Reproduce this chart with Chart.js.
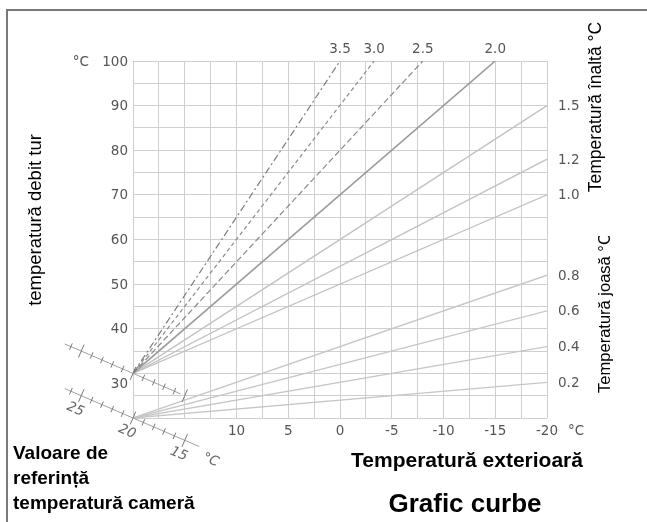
<!DOCTYPE html>
<html>
<head>
<meta charset="utf-8">
<script src="https://cdn.jsdelivr.net/npm/chart.js@4"></script>
<style>
  html, body { margin: 0; padding: 0; background: #fff; }
  canvas { display: block; }
</style>
</head>
<body>
<canvas id="c" width="647" height="522"></canvas>
<script>
// Outdoor temperature (x) and flow temperature (y) tick labels
const outdoorTicks = [10, 5, 0, -5, -10, -15, -20];
const flowTicks = [100, 90, 80, 70, 60, 50, 40, 30];

// Heating curves: name, flow temperature at +20 °C outdoor, end point
const curveNames  = ['3.5', '3.0', '2.5', '2.0', '1.5', '1.2', '1.0', '0.8', '0.6', '0.4', '0.2'];
const curveStartY = [30, 30, 30, 30, 30, 30, 30, 20, 20, 20, 20];
const curveEndX   = [0, -3.3, -8, -15, -20, -20, -20, -20, -20, -20, -20];
const curveEndY   = [100, 100, 100, 100, 90, 78, 70, 52, 44, 36, 28];

// Room set-point scales (°C)
const roomScaleTicks  = [26, 25, 24, 23, 22, 21, 20, 19, 18, 17, 16, 15];
const roomScaleLabels = [25, 20, 15];
const roomScaleOffsets = [10, 0];   // flow offset of upper / lower scale

const NUM = '"DejaVu Sans", sans-serif';
const TXT = '"Liberation Sans", Arial, sans-serif';

const curveStyles = [
  { color: '#7a7a7a', width: 1.2, dash: [7, 3, 2, 3] },
  { color: '#8a8a8a', width: 1.2, dash: [4, 3] },
  { color: '#8a8a8a', width: 1.2, dash: [6, 3] },
  { color: '#9a9a9a', width: 1.6, dash: [] },
  { color: '#c2c2c2', width: 1.3, dash: [] },
  { color: '#c2c2c2', width: 1.3, dash: [] },
  { color: '#c2c2c2', width: 1.3, dash: [] },
  { color: '#c6c6c6', width: 1.3, dash: [] },
  { color: '#c6c6c6', width: 1.3, dash: [] },
  { color: '#c6c6c6', width: 1.3, dash: [] },
  { color: '#c6c6c6', width: 1.3, dash: [] }
];

const datasets = curveNames.map((name, i) => ({
  label: name,
  data: [{ x: 20, y: curveStartY[i] }, { x: curveEndX[i], y: curveEndY[i] }],
  showLine: true,
  borderColor: curveStyles[i].color,
  borderWidth: curveStyles[i].width,
  borderDash: curveStyles[i].dash,
  pointRadius: 0,
  fill: false
}));

const decorations = {
  id: 'decorations',
  afterDraw(chart) {
    const ctx = chart.ctx;
    const xs = chart.scales.x, ys = chart.scales.y;
    const area = chart.chartArea;
    ctx.save();

    // outer frame
    ctx.strokeStyle = '#7a7a7a';
    ctx.lineWidth = 2;
    ctx.beginPath();
    ctx.moveTo(7, 530);
    ctx.lineTo(7, 10);
    ctx.lineTo(660, 10);
    ctx.stroke();

    // flow temperature labels
    ctx.fillStyle = '#555';
    ctx.font = '13.5px ' + NUM;
    ctx.textAlign = 'right';
    ctx.textBaseline = 'middle';
    flowTicks.forEach(v => ctx.fillText(String(v), area.left - 5, ys.getPixelForValue(v) + (v === 30 ? 11 : 1)));
    ctx.fillText('°C', area.left - 44, ys.getPixelForValue(100) + 1);

    // outdoor temperature labels
    ctx.textAlign = 'center';
    outdoorTicks.forEach(v => ctx.fillText(String(v), xs.getPixelForValue(v), area.bottom + 13));
    ctx.fillText('°C', area.right + 29, area.bottom + 13);

    // curve names
    curveNames.forEach((name, i) => {
      if (curveEndY[i] >= 100) {
        ctx.textAlign = 'center';
        ctx.fillText(name, xs.getPixelForValue(curveEndX[i]), area.top - 12);
      } else {
        ctx.textAlign = 'left';
        ctx.fillText(name, area.right + 11, ys.getPixelForValue(curveEndY[i]) + 1);
      }
    });

    // room set-point scales
    roomScaleOffsets.forEach((off, k) => {
      const P = t => ({ x: xs.getPixelForValue(t), y: ys.getPixelForValue(t + off) });
      const a = P(26.6), b = P(k === 0 ? 15.4 : 13.6);
      const len = Math.hypot(b.x - a.x, b.y - a.y);
      const u = { x: (b.x - a.x) / len, y: (b.y - a.y) / len };
      const n = { x: -u.y, y: u.x };
      ctx.strokeStyle = '#a0a0a0';
      ctx.lineWidth = 1;
      ctx.beginPath();
      ctx.moveTo(a.x, a.y);
      ctx.lineTo(b.x, b.y);
      ctx.stroke();
      ctx.strokeStyle = '#777';
      roomScaleTicks.forEach(t => {
        const p = P(t);
        const h = roomScaleLabels.includes(t) ? 7 : 3.5;
        ctx.beginPath();
        ctx.moveTo(p.x - n.x * h, p.y - n.y * h);
        ctx.lineTo(p.x + n.x * h, p.y + n.y * h);
        ctx.stroke();
      });
      if (k === 1) {
        const ang = Math.atan2(u.y, u.x);
        ctx.fillStyle = '#666';
        ctx.font = 'italic 13.5px ' + NUM;
        ctx.textAlign = 'center';
        ctx.textBaseline = 'middle';
        const put = (txt, t, d) => {
          const p = P(t);
          ctx.save();
          ctx.translate(p.x + n.x * d, p.y + n.y * d);
          ctx.rotate(ang);
          ctx.fillText(txt, 0, 0);
          ctx.restore();
        };
        roomScaleLabels.forEach(t => put(String(t), t, 15));
        put('°C', 12.2, 8);
      }
    });

    // axis titles
    ctx.fillStyle = '#000';
    ctx.textAlign = 'center';
    ctx.textBaseline = 'middle';
    const vtext = (txt, x, y) => {
      ctx.save();
      ctx.translate(x, y);
      ctx.rotate(-Math.PI / 2);
      ctx.fillText(txt, 0, 0);
      ctx.restore();
    };
    ctx.font = '18.5px ' + TXT;
    vtext('temperatură debit tur', 36, 220);
    ctx.font = '17.5px ' + TXT;
    vtext('Temperatură înaltă °C', 596, 107);
    ctx.save();
    ctx.beginPath();
    ctx.rect(560, 236, 87, 200);
    ctx.clip();
    ctx.font = '16.5px ' + TXT;
    vtext('Temperatură joasă °C', 605, 313);
    ctx.restore();

    ctx.font = 'bold 19px ' + TXT;
    ctx.textAlign = 'left';
    ctx.textBaseline = 'alphabetic';
    ctx.fillText('Valoare de', 13, 459);
    ctx.fillText('referință', 13, 484);
    ctx.fillText('temperatură cameră', 13, 509);

    ctx.textAlign = 'center';
    ctx.font = 'bold 21px ' + TXT;
    ctx.fillText('Temperatură exterioară', 467, 467);
    ctx.font = 'bold 26px ' + TXT;
    ctx.fillText('Grafic curbe', 465, 512);

    ctx.restore();
  }
};

new Chart(document.getElementById('c'), {
  type: 'scatter',
  data: { datasets },
  options: {
    responsive: false,
    animation: false,
    layout: { padding: { left: 133, right: 100, top: 61, bottom: 104 } },
    plugins: { legend: { display: false }, tooltip: { enabled: false } },
    scales: {
      x: {
        type: 'linear', min: -20, max: 20, reverse: true,
        ticks: { display: false, stepSize: 2.5 },
        grid: { color: '#cfcfcf', drawTicks: false, lineWidth: 1 },
        border: { display: false },
        afterFit: s => { s.height = 0; }
      },
      y: {
        type: 'linear', min: 20, max: 100,
        ticks: { display: false, stepSize: 5 },
        grid: { color: '#cfcfcf', drawTicks: false, lineWidth: 1 },
        border: { display: false },
        afterFit: s => { s.width = 0; }
      }
    }
  },
  plugins: [decorations]
});
</script>
</body>
</html>
